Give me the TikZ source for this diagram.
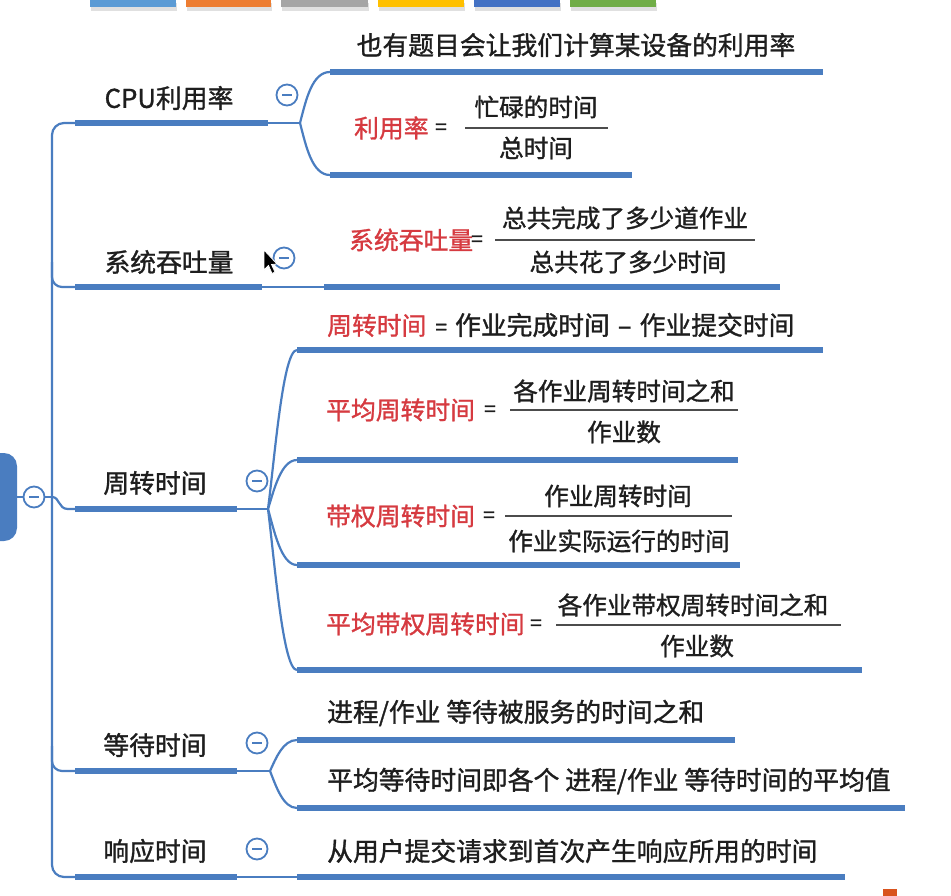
\documentclass[tikz,border=0pt]{standalone}
\usepackage{fontspec}
\setmainfont{Noto Sans CJK SC}
\newfontfamily\cjk{Noto Sans CJK SC}[RawFeature={embolden=1.2}]
\definecolor{lblue}{HTML}{4A7DC0}
\definecolor{redt}{HTML}{D63A40}
\definecolor{txt}{HTML}{1E1E1E}
\definecolor{cba}{HTML}{5B9BD5}
\definecolor{cbb}{HTML}{ED7D31}
\definecolor{cbc}{HTML}{A5A5A5}
\definecolor{cbd}{HTML}{FFC000}
\definecolor{cbe}{HTML}{4472C4}
\definecolor{cbf}{HTML}{70AD47}
\definecolor{cutmark}{HTML}{D9531E}
\tikzset{
  thickline/.style={line width=5.5pt, draw=lblue},
  thinline/.style={line width=2.2pt, draw=lblue},
  fracline/.style={line width=1.6pt, draw=black!70},
  mainlbl/.style={font=\cjk\fontsize{25.8}{30}\selectfont, text=txt, inner sep=0pt},
  redlbl/.style={font=\cjk\fontsize{24.8}{29}\selectfont, text=redt, inner sep=0pt, anchor=west},
  fraclbl/.style={font=\cjk\fontsize{24.6}{29}\selectfont, text=txt, inner sep=0pt},
  eqlbl/.style={font=\cjk\fontsize{21}{25}\selectfont, text=txt, inner sep=0pt},
  collapse/.style={circle, draw=lblue, line width=1.8pt, fill=white, minimum size=21pt, inner sep=0pt,
    path picture={\draw[lblue, line width=1.6pt] ([xshift=-5pt]path picture bounding box.center) -- ([xshift=5pt]path picture bounding box.center);}},
}
\begin{document}
\begin{tikzpicture}[x=1pt,y=-1pt]
\useasboundingbox (0,0) rectangle (951,895);
\fill[white] (0,0) rectangle (951,895);
% top colour bar
\foreach \xa/\xb/\c in {90/176/cba,186/271/cbb,281/368/cbc,378/464/cbd,474/560/cbe,570/656/cbf}{
  \fill[black!12] (\xa+1,3) rectangle (\xb+1,11);
  \fill[\c] (\xa,0) rectangle (\xb,7);
}
% root
\node[fill=lblue, rounded corners=13pt, minimum width=44pt, minimum height=88pt, inner sep=0pt] (root) at (-5,497) {};
\node[collapse] (c0) at (34,497) {};
\draw[thinline] (root.east) -- (c0.west);
\coordinate (trunkmid) at (52,497);
\draw[thinline] (c0.east) -- (trunkmid);

% main branch underlines
\coordinate (cpuA) at (75,123);   \coordinate (cpuB) at (268,123); \coordinate (cpuJ) at (300,123);
\coordinate (sysA) at (75,287);   \coordinate (sysB) at (262,287); \coordinate (sysJ) at (324,287);
\coordinate (tatA) at (75,509);   \coordinate (tatB) at (237,509); \coordinate (tatJ) at (268,509);
\coordinate (waiA) at (75,771);   \coordinate (waiB) at (237,771); \coordinate (waiJ) at (270,771);
\coordinate (resA) at (75,877);   \coordinate (resB) at (237,877); \coordinate (resJ) at (297,877);

% trunk
\draw[thinline, rounded corners=12pt] (cpuA) -- (52,123) -- (52,877) -- (resA);
\draw[thinline, rounded corners=10pt] (52,262) -- (52,287) -- (sysA);
\draw[thinline, rounded corners=10pt] (52,746) -- (52,771) -- (waiA);
\draw[thinline] (trunkmid) .. controls (60,497) and (58,509) .. (68,509) -- (tatA);

\draw[thickline] (cpuA) -- (cpuB);
\draw[thickline] (sysA) -- (sysB);
\draw[thickline] (tatA) -- (tatB);
\draw[thickline] (waiA) -- (waiB);
\draw[thickline] (resA) -- (resB);
\draw[thinline] (cpuB) -- (cpuJ);
\draw[thinline] (sysB) -- (sysJ);
\draw[thinline] (tatB) -- (tatJ);
\draw[thinline] (waiB) -- (waiJ);
\draw[thinline] (resB) -- (resJ);

% main labels
\node[mainlbl] (cpu) at (169,98) {CPU利用率};
\node[mainlbl] (sys) at (169,262) {系统吞吐量};
\node[mainlbl] (tat) at (155,483) {周转时间};
\node[mainlbl] (wai) at (155,745) {等待时间};
\node[mainlbl] (res) at (155,851) {响应时间};

% collapse buttons
\node[collapse] (c1) at (287,95) {};
\node[collapse] (c2) at (284,258) {};
\node[collapse] (c3) at (257,481) {};
\node[collapse] (c4) at (257,743) {};
\node[collapse] (c5) at (257,849) {};

% ---------- CPU children
\coordinate (cpu1A) at (330,72);  \coordinate (cpu1B) at (823,72);
\coordinate (cpu2A) at (330,175); \coordinate (cpu2B) at (632,175);
\draw[thinline] (cpuJ) .. controls (306,100) and (312,72) .. (cpu1A);
\draw[thinline] (cpuJ) .. controls (306,146) and (312,175) .. (cpu2A);
\draw[thickline] (cpu1A) -- (cpu1B);
\draw[thickline] (cpu2A) -- (cpu2B);
\node[mainlbl] (cpu1) at (576,45) {也有题目会让我们计算某设备的利用率};
\node[redlbl] (f1L) at (354,128) {利用率};
\node[eqlbl] (f1E) at (441,129) {=};
\node[fraclbl] (f1N) at (536,107) {忙碌的时间};
\node[fraclbl] (f1D) at (536,148) {总时间};
\draw[fracline] (465,128) -- (608,128);

% ---------- 系统吞吐量 child
\coordinate (sys1B) at (780,287);
\draw[thickline] (sysJ) -- (sys1B);
\node[redlbl] (f2L) at (349,240) {系统吞吐量};
\node[eqlbl] (f2E) at (477,241) {=};
\node[fraclbl] (f2N) at (625,218) {总共完成了多少道作业};
\node[fraclbl] (f2D) at (628,262) {总共花了多少时间};
\draw[fracline] (495,240) -- (755,240);

% ---------- 周转时间 children
\coordinate (t1A) at (297,350); \coordinate (t1B) at (823,350);
\coordinate (t2A) at (297,460); \coordinate (t2B) at (738,460);
\coordinate (t3A) at (297,565); \coordinate (t3B) at (740,565);
\coordinate (t4A) at (297,670); \coordinate (t4B) at (862,670);
\draw[thinline] (tatJ) .. controls (275,455) and (283,350) .. (t1A);
\draw[thinline] (tatJ) .. controls (274,490) and (281,460) .. (t2A);
\draw[thinline] (tatJ) .. controls (274,530) and (281,565) .. (t3A);
\draw[thinline] (tatJ) .. controls (275,565) and (283,670) .. (t4A);
\draw[thickline] (t1A) -- (t1B);
\draw[thickline] (t2A) -- (t2B);
\draw[thickline] (t3A) -- (t3B);
\draw[thickline] (t4A) -- (t4B);

\node[mainlbl, anchor=west] (t1) at (327,325) {\textcolor{redt}{\fontsize{24.8}{29}\selectfont 周转时间}\hspace{9pt}\fontsize{21}{25}\selectfont=\fontsize{25.8}{30}\selectfont\hspace{8pt}作业完成时间\hspace{8pt}–\hspace{8pt}作业提交时间};

\node[redlbl] (f3L) at (326,410) {平均周转时间};
\node[eqlbl] (f3E) at (490,411) {=};
\node[fraclbl] (f3N) at (624,391) {各作业周转时间之和};
\node[fraclbl] (f3D) at (624,432) {作业数};
\draw[fracline] (510,410) -- (738,410);

\node[redlbl] (f4L) at (326,516) {带权周转时间};
\node[eqlbl] (f4E) at (489,517) {=};
\node[fraclbl] (f4N) at (618,496) {作业周转时间};
\node[fraclbl] (f4D) at (619,541) {作业实际运行的时间};
\draw[fracline] (505,516) -- (732,516);

\node[redlbl] (f5L) at (326,624) {平均带权周转时间};
\node[eqlbl] (f5E) at (536,625) {=};
\node[fraclbl] (f5N) at (693,605) {各作业带权周转时间之和};
\node[fraclbl] (f5D) at (697,646) {作业数};
\draw[fracline] (556,625) -- (841,625);

% ---------- 等待时间 children
\coordinate (w1A) at (297,740); \coordinate (w1B) at (735,740);
\coordinate (w2A) at (297,808); \coordinate (w2B) at (905,808);
\draw[thinline] (waiJ) .. controls (276,758) and (283,740) .. (w1A);
\draw[thinline] (waiJ) .. controls (276,786) and (283,808) .. (w2A);
\draw[thickline] (w1A) -- (w1B);
\draw[thickline] (w2A) -- (w2B);
\node[mainlbl, anchor=west] (w1) at (327,713) {进程/作业 等待被服务的时间之和};
\node[mainlbl, anchor=west] (w2) at (327,781) {平均等待时间即各个 进程/作业 等待时间的平均值};

% ---------- 响应时间 child
\coordinate (r1B) at (845,877);
\draw[thickline] (resJ) -- (r1B);
\node[mainlbl, anchor=west] (r1) at (327,851) {从用户提交请求到首次产生响应所用的时间};

% mouse cursor
\fill[black, draw=white, line width=0.8pt] (264,250) -- (264,270) -- (268.5,265.5) -- (272,273.5) -- (275,272) -- (271.5,264.5) -- (277,264) -- cycle;

% cut-off mark at bottom right
\fill[cutmark] (883,889) rectangle (897,896);
\end{tikzpicture}
\end{document}
